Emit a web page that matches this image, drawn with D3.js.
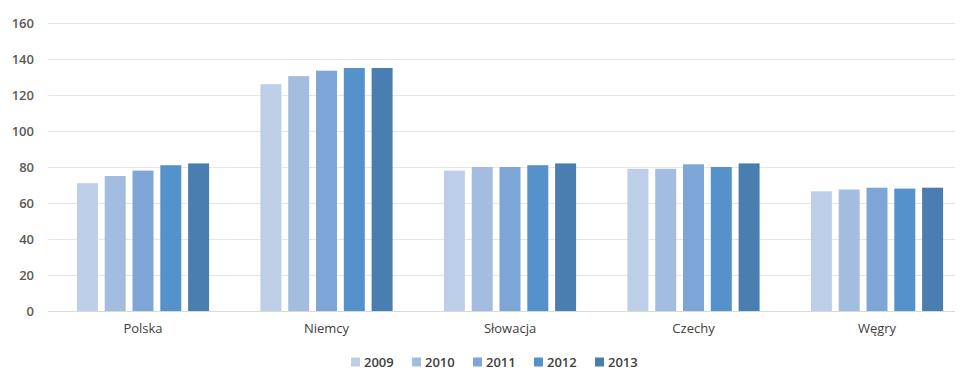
<!DOCTYPE html>
<html><head><meta charset="utf-8">
<script src="https://cdn.jsdelivr.net/npm/d3@7"></script>
<style>body{margin:0;background:#fff}svg{display:block}text{font-family:"Open Sans",sans-serif}</style>
</head><body><svg id="c" width="961" height="372"></svg>
<script>
const categories = ["Polska","Niemcy","Słowacja","Czechy","Węgry"];
const years = ["2009","2010","2011","2012","2013"];
const v2009 = [71, 126, 78, 79, 66.5];
const v2010 = [75, 130.5, 80, 79, 67.5];
const v2011 = [78, 133.5, 80, 81.5, 68.5];
const v2012 = [81, 135, 81, 80, 68];
const v2013 = [82, 135, 82, 82, 68.5];
const yTicks = [0,20,40,60,80,100,120,140,160];
const colors = ["#bdcfe8","#a3bde0","#7da6d7","#5591cb","#4a7eb0"];

const series = [v2009,v2010,v2011,v2012,v2013];
const svg = d3.select("#c");
const y = d3.scaleLinear().domain([0,160]).range([311,23]);
const x0 = d3.scaleBand().domain(categories).range([51.25,968.75]).paddingInner(0).paddingOuter(0);
const groupW = 139;
const x1 = d3.scaleBand().domain(years).range([0,groupW]).paddingInner(0.245).paddingOuter(0.1225);

// gridlines
const yAxis = d3.axisLeft(y).tickValues(yTicks).tickSize(-907).tickPadding(14);
const ga = svg.append("g").attr("transform","translate(48,0)").call(yAxis);
ga.select(".domain").remove();
ga.selectAll(".tick line").attr("stroke", d => d===0 ? "#d9d9d9" : "#e6e6e6").attr("stroke-width",1);
ga.selectAll(".tick text").attr("fill","#595959").style("font-size","13px").style("font-weight","600").style("font-family","'Open Sans',sans-serif");

// bars
const groups = svg.append("g").selectAll("g").data(categories).join("g")
  .attr("transform", c => `translate(${x0(c)+x0.bandwidth()/2-groupW/2},0)`);
groups.selectAll("rect").data((c,i)=> years.map((yr,j)=>({yr, v: series[j][i], j})))
  .join("rect")
  .attr("x", d => x1(d.yr)).attr("width", x1.bandwidth())
  .attr("y", d => y(d.v)).attr("height", d => y(0)-y(d.v))
  .attr("fill", d => colors[d.j]);

// category labels
const xAxis = d3.axisBottom(x0).tickSize(0).tickPadding(13);
const gx = svg.append("g").attr("transform","translate(0,311)").call(xAxis);
gx.select(".domain").remove();
gx.selectAll(".tick text").attr("fill","#404040").style("font-size","13px").style("font-family","'Open Sans',sans-serif");

// legend
const leg = svg.append("g").selectAll("g").data(years).join("g")
  .attr("transform",(d,i)=>`translate(${351+i*61},362)`);
leg.append("rect").attr("x",0).attr("y",-4.5).attr("width",9).attr("height",9).attr("fill",(d,i)=>colors[i]);
leg.append("text").attr("x",13).attr("y",0).attr("dy","0.35em").text(d=>d)
  .attr("fill","#404040").style("font-size","13px").style("font-weight","600");
</script></body></html>
